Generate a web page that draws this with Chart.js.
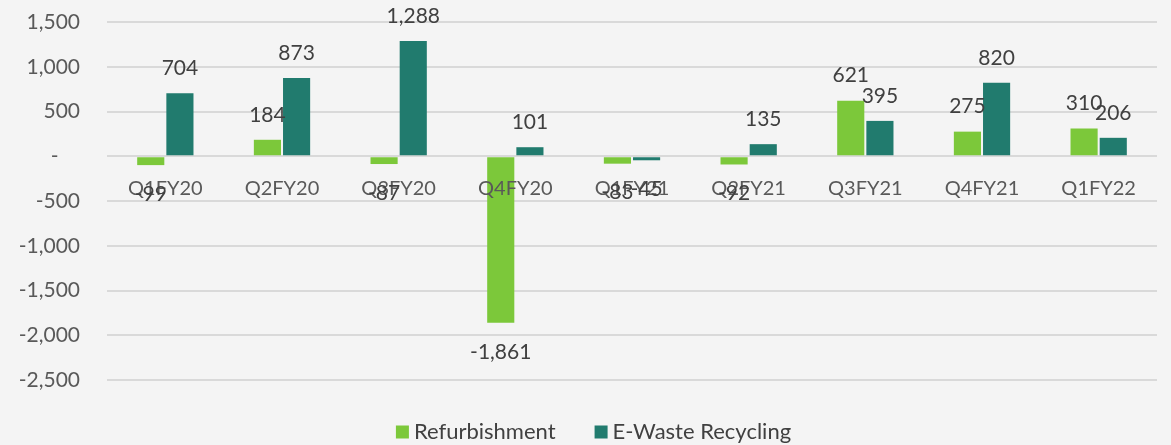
<!DOCTYPE html>
<html>
<head>
<meta charset="utf-8">
<script src="https://cdn.jsdelivr.net/npm/chart.js@4.4.0/dist/chart.umd.min.js"></script>
<style>
  html, body { margin: 0; padding: 0; }
  body { width: 1171px; height: 445px; background: #f4f4f4; overflow: hidden; }
  #wrap { position: relative; width: 1171px; height: 445px; }
</style>
</head>
<body>
<div id="wrap"><canvas id="segChart"></canvas></div>
<script>
// Quarters and segment values
const quarters = ['Q1FY20', 'Q2FY20', 'Q3FY20', 'Q4FY20', 'Q1FY21', 'Q2FY21', 'Q3FY21', 'Q4FY21', 'Q1FY22'];
const refurbishment = [-99, 184, -87, -1861, -83, -92, 621, 275, 310];
const eWasteRecycling = [704, 873, 1288, 101, -45, 135, 395, 820, 206];
const yTicks = [1500, 1000, 500, 0, -500, -1000, -1500, -2000, -2500];

const fmt = v => v.toLocaleString('en-US');

// Category names sit just under the zero line, on top of the bars
const zeroLineLabels = {
    id: 'zeroLineLabels',
    afterDatasetsDraw(chart) {
        const c = chart.ctx;
        const x = chart.scales.x;
        const y0 = chart.scales.y.getPixelForValue(0);
        c.save();
        c.font = '20px Lato';
        c.fillStyle = '#595959';
        c.textAlign = 'center';
        c.textBaseline = 'middle';
        chart.data.labels.forEach((lbl, i) => {
            c.fillText(lbl, x.getPixelForValue(i), y0 + 32);
        });
        c.restore();
    }
};

// Draw value labels above / below each bar
const valueLabels = {
    id: 'valueLabels',
    afterDatasetsDraw(chart) {
        const c = chart.ctx;
        c.save();
        c.font = '21px Lato';
        c.fillStyle = '#404040';
        c.textAlign = 'center';
        c.textBaseline = 'middle';
        chart.data.datasets.forEach((ds, i) => {
            chart.getDatasetMeta(i).data.forEach((bar, j) => {
                const v = ds.data[j];
                const y = v >= 0 ? bar.y - 25 : bar.y + 29;
                c.fillText(fmt(v), bar.x, y);
            });
        });
        c.restore();
    }
};

// Simple legend drawn at the bottom (square box, small gap, label)
const bottomLegend = {
    id: 'bottomLegend',
    afterDraw(chart) {
        const c = chart.ctx;
        c.save();
        c.font = '22px Lato';
        c.textBaseline = 'middle';
        const items = chart.data.datasets.map(ds => ({ text: ds.label, color: ds.backgroundColor }));
        const box = 13, gap = 5, spacing = 39;
        let total = 0;
        items.forEach((it, i) => {
            it.w = c.measureText(it.text).width;
            total += box + gap + it.w + (i ? spacing : 0);
        });
        let x = chart.width / 2 + 8 - total / 2;
        const y = 432;
        items.forEach(it => {
            c.fillStyle = it.color;
            c.fillRect(x, y - box / 2, box, box);
            x += box + gap;
            c.fillStyle = '#404040';
            c.fillText(it.text, x, y);
            x += it.w + spacing;
        });
        c.restore();
    }
};

const ctx = document.getElementById('segChart').getContext('2d');

new Chart(ctx, {
    type: 'bar',
    data: {
        labels: quarters,
        datasets: [
            {
                label: 'Refurbishment',
                data: refurbishment,
                backgroundColor: '#7cc83a',
                categoryPercentage: 0.5,
                barPercentage: 0.93
            },
            {
                label: 'E-Waste Recycling',
                data: eWasteRecycling,
                backgroundColor: '#217b6e',
                categoryPercentage: 0.5,
                barPercentage: 0.93
            }
        ]
    },
    options: {
        responsive: true,
        maintainAspectRatio: false,
        animation: false,
        layout: { padding: { top: 22, right: 14, bottom: 65, left: 0 } },
        plugins: {
            legend: { display: false },
            tooltip: { enabled: false }
        },
        scales: {
            x: { display: false },
            y: {
                min: -2500,
                max: 1500,
                afterBuildTicks: scale => { scale.ticks = yTicks.map(v => ({ value: v })); },
                afterFit: scale => {
                    scale.width = 107;
                    scale.paddingTop = 0;
                    scale.paddingBottom = 0;
                },
                grid: { color: '#d9d9d9', lineWidth: 2, drawTicks: false },
                border: { display: false },
                ticks: {
                    font: { family: 'Lato', size: 21 },
                    color: '#595959',
                    padding: 27,
                    callback: v => v === 0 ? '-    ' : fmt(v)
                }
            }
        }
    },
    plugins: [zeroLineLabels, valueLabels, bottomLegend]
});
</script>
</body>
</html>
